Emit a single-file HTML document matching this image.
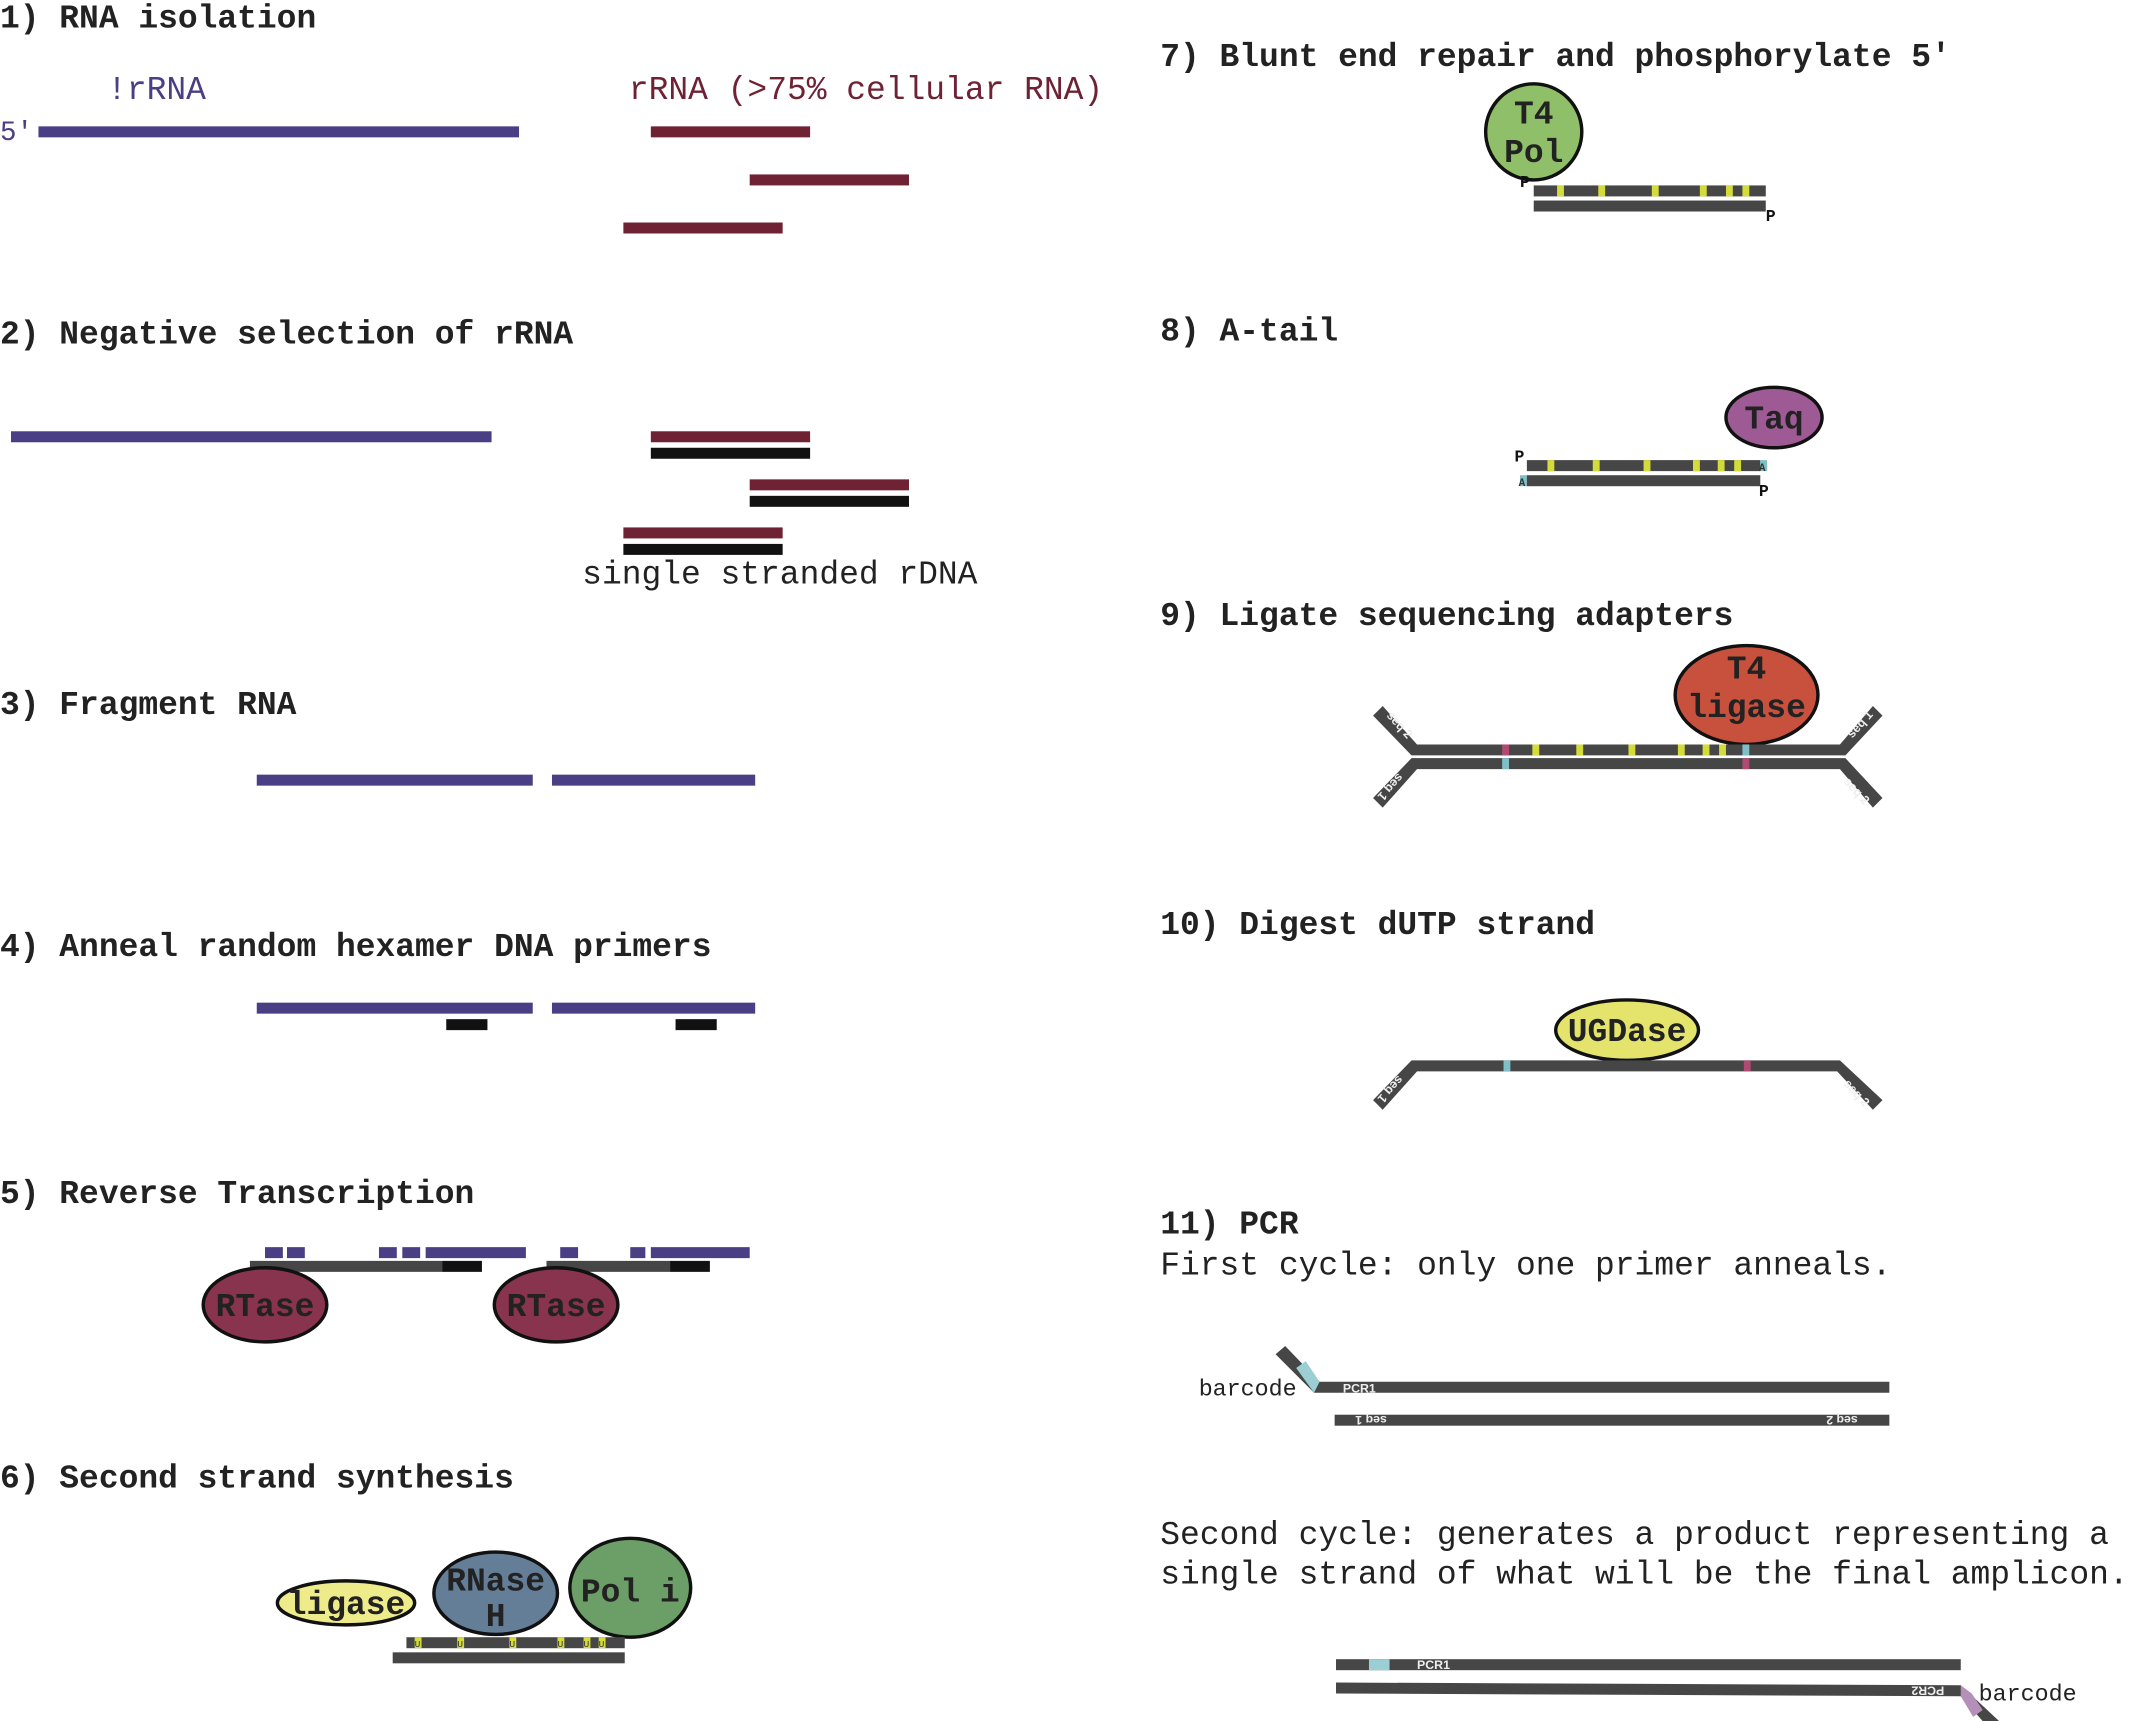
<!DOCTYPE html>
<html><head><meta charset="utf-8"><style>
html,body{margin:0;padding:0;background:#fff;}
svg{display:block;}
text{font-family:"Liberation Mono",monospace;}
.h{font-weight:bold;font-size:24px;fill:#222;}
.t{font-size:24px;fill:#222;}
.e{stroke:#111;stroke-width:2.5;}
.el{font-weight:bold;font-size:24px;fill:#222;text-anchor:middle;}
.s{fill:#464646;}
.y{fill:#d4dc3c;}
.sm{font-size:12px;font-weight:bold;fill:#111;}
.wl{font-size:9px;font-weight:bold;fill:#eee;font-family:"Liberation Sans",sans-serif;}
</style></head><body>
<svg width="2142" height="1721" viewBox="0 0 1560 1253" preserveAspectRatio="none">
<g>
<text class="h" x="0" y="20">1) RNA isolation</text>
<text class="t" x="78" y="72" style="fill:#4a3f84">!rRNA</text>
<text class="t" x="458" y="72" style="fill:#6e2234">rRNA (&gt;75% cellular RNA)</text>
<text class="t" x="0" y="102" style="fill:#4a3f84;font-size:20px">5′</text>
<rect x="28" y="92" width="350" height="8" fill="#4a3f84"/>
<rect x="474" y="92" width="116" height="8" fill="#6e2234"/>
<rect x="546" y="127" width="116" height="8" fill="#6e2234"/>
<rect x="454" y="162" width="116" height="8" fill="#6e2234"/>
</g>
<g>
<text class="h" x="0" y="250">2) Negative selection of rRNA</text>
<rect x="8" y="314" width="350" height="8" fill="#4a3f84"/>
<rect x="474" y="314" width="116" height="8" fill="#6e2234"/>
<rect x="474" y="326" width="116" height="8" fill="#111"/>
<rect x="546" y="349" width="116" height="8" fill="#6e2234"/>
<rect x="546" y="361" width="116" height="8" fill="#111"/>
<rect x="454" y="384" width="116" height="8" fill="#6e2234"/>
<rect x="454" y="396" width="116" height="8" fill="#111"/>
<text class="t" x="424" y="425">single stranded rDNA</text>
</g>
<g>
<text class="h" x="0" y="520">3) Fragment RNA</text>
<rect x="187" y="564" width="201" height="8" fill="#4a3f84"/>
<rect x="402" y="564" width="148" height="8" fill="#4a3f84"/>
</g>
<g>
<text class="h" x="0" y="696">4) Anneal random hexamer DNA primers</text>
<rect x="187" y="730" width="201" height="8" fill="#4a3f84"/>
<rect x="402" y="730" width="148" height="8" fill="#4a3f84"/>
<rect x="325" y="742" width="30" height="8" fill="#111"/>
<rect x="492" y="742" width="30" height="8" fill="#111"/>
</g>
<g>
<text class="h" x="0" y="876">5) Reverse Transcription</text>
<g fill="#4a3f84">
<rect x="193" y="908" width="13" height="8"/><rect x="209" y="908" width="13" height="8"/>
<rect x="276" y="908" width="13" height="8"/><rect x="293" y="908" width="13" height="8"/>
<rect x="310" y="908" width="73" height="8"/>
<rect x="408" y="908" width="13" height="8"/><rect x="459" y="908" width="11" height="8"/>
<rect x="474" y="908" width="72" height="8"/>
</g>
<rect x="182" y="918" width="140" height="8" class="s"/>
<rect x="322" y="918" width="29" height="8" fill="#111"/>
<rect x="398" y="918" width="90" height="8" class="s"/>
<rect x="488" y="918" width="29" height="8" fill="#111"/>
<ellipse cx="193" cy="950" rx="45" ry="27" fill="#88344f" class="e"/>
<text class="el" x="193" y="958">RTase</text>
<ellipse cx="405" cy="950" rx="45" ry="27" fill="#88344f" class="e"/>
<text class="el" x="405" y="958">RTase</text>
</g>
<g>
<text class="h" x="0" y="1083">6) Second strand synthesis</text>
<ellipse cx="252" cy="1167" rx="50" ry="16" fill="#eeeb8a" class="e"/>
<text class="el" x="252" y="1175">ligase</text>
<ellipse cx="361" cy="1160" rx="45" ry="30" fill="#647e98" class="e"/>
<text class="el" x="361" y="1158">RNase</text>
<text class="el" x="361" y="1184">H</text>
<ellipse cx="459" cy="1156" rx="44" ry="36" fill="#6c9e67" class="e"/>
<text class="el" x="459" y="1166">Pol i</text>
<rect x="296" y="1192" width="159" height="8" class="s"/>
<g class="y">
<rect x="302" y="1192" width="5" height="8"/><rect x="333" y="1192" width="5" height="8"/><rect x="371" y="1192" width="5" height="8"/>
<rect x="406" y="1192" width="5" height="8"/><rect x="425" y="1192" width="5" height="8"/><rect x="436" y="1192" width="5" height="8"/>
</g>
<g style="font-size:7px;fill:#333">
<text x="302" y="1199">U</text><text x="333" y="1199">U</text><text x="371" y="1199">U</text><text x="406" y="1199">U</text><text x="425" y="1199">U</text><text x="436" y="1199">U</text>
</g>
<rect x="286" y="1203" width="169" height="8" class="s"/>
</g>
<g>
<text class="h" x="845" y="48">7) Blunt end repair and phosphorylate 5′</text>
<ellipse cx="1117" cy="96" rx="35" ry="35" fill="#8fbf68" class="e"/>
<text class="el" x="1117" y="90">T4</text>
<text class="el" x="1117" y="118">Pol</text>
<text class="sm" x="1107" y="136">P</text>
<rect x="1117" y="135" width="169" height="8" class="s"/>
<g class="y"><rect x="1134" y="135" width="5" height="8"/><rect x="1164" y="135" width="5" height="8"/><rect x="1203" y="135" width="5" height="8"/><rect x="1238" y="135" width="5" height="8"/><rect x="1257" y="135" width="5" height="8"/><rect x="1269" y="135" width="5" height="8"/></g>
<rect x="1117" y="146" width="169" height="8" class="s"/>
<text class="sm" x="1286" y="161">P</text>
</g>
<g>
<text class="h" x="845" y="248">8) A-tail</text>
<ellipse cx="1292" cy="304" rx="35" ry="22" fill="#9e5a94" class="e"/>
<text class="el" x="1292" y="312">Taq</text>
<text class="sm" x="1103" y="336">P</text>
<rect x="1112" y="335" width="170" height="8" class="s"/>
<rect x="1282" y="335" width="5" height="8" fill="#7fc0c8"/>
<text x="1281" y="343" style="font-size:8px;font-weight:bold;fill:#333">A</text>
<g class="y"><rect x="1127" y="335" width="5" height="8"/><rect x="1160" y="335" width="5" height="8"/><rect x="1197" y="335" width="5" height="8"/><rect x="1233" y="335" width="5" height="8"/><rect x="1251" y="335" width="5" height="8"/><rect x="1263" y="335" width="5" height="8"/></g>
<rect x="1107" y="346" width="5" height="8" fill="#7fc0c8"/>
<text x="1106" y="354" style="font-size:8px;font-weight:bold;fill:#333">A</text>
<rect x="1112" y="346" width="170" height="8" class="s"/>
<text class="sm" x="1281" y="361">P</text>
</g>
<g>
<text class="h" x="845" y="455">9) Ligate sequencing adapters</text>
<ellipse cx="1272" cy="506" rx="52" ry="36" fill="#c8513d" class="e"/>
<text class="el" x="1272" y="494">T4</text>
<text class="el" x="1272" y="522">ligase</text>
<polygon points="1000,521 1007,514 1032,542 1340,542 1364,514 1371,521 1344,550 1028,550" class="s"/>
<polygon points="1028,552 1344,552 1371,581 1364,588 1340,560 1032,560 1007,588 1000,581" class="s"/>
<text class="wl" x="1006" y="525" transform="rotate(48 1012 527)">seq 2</text>
<text class="wl" x="1342" y="532" transform="rotate(-48 1352 527)">seq 1</text>
<text class="wl" x="1006" y="580" transform="rotate(132 1016 574)">seq 1</text>
<text class="wl" x="1342" y="578" transform="rotate(48 1352 574)">seq 2</text>
<g class="y"><rect x="1116" y="542" width="5" height="8"/><rect x="1148" y="542" width="5" height="8"/><rect x="1186" y="542" width="5" height="8"/><rect x="1222" y="542" width="5" height="8"/><rect x="1240" y="542" width="5" height="8"/><rect x="1252" y="542" width="5" height="8"/></g>
<rect x="1094" y="542" width="5" height="8" fill="#b04a72"/><rect x="1269" y="542" width="5" height="8" fill="#7fc0c8"/>
<rect x="1094" y="552" width="5" height="8" fill="#7fc0c8"/><rect x="1269" y="552" width="5" height="8" fill="#b04a72"/>
</g>
<g>
<text class="h" x="845" y="680">10) Digest dUTP strand</text>
<ellipse cx="1185" cy="750" rx="52" ry="22" fill="#e4e46c" class="e"/>
<text class="el" x="1185" y="758">UGDase</text>
<polygon points="1028,772 1340,772 1371,801 1364,808 1338,780 1032,780 1007,808 1000,801" class="s"/>
<text class="wl" x="1006" y="800" transform="rotate(132 1016 794)">seq 1</text>
<text class="wl" x="1342" y="798" transform="rotate(48 1352 794)">seq 2</text>
<rect x="1095" y="772" width="5" height="8" fill="#7fc0c8"/><rect x="1270" y="772" width="5" height="8" fill="#b04a72"/>
</g>
<g>
<text class="h" x="845" y="898">11) PCR</text>
<text class="t" x="845" y="928">First cycle: only one primer anneals.</text>
<text class="t" x="873" y="1016" style="font-size:17px">barcode</text>
<polygon points="929,986 936,980 961,1006 1376,1006 1376,1014 957,1014" class="s"/>
<polygon points="944,996 951,991 961,1006 957,1014" fill="#9ccfd3"/>
<text class="wl" x="978" y="1014">PCR1</text>
<rect x="972" y="1030" width="404" height="8" class="s"/>
<text class="wl" x="984" y="1037" transform="rotate(180 997 1034)">seq 1</text>
<text class="wl" x="1327" y="1037" transform="rotate(180 1340 1034)">seq 2</text>
<text class="t" x="845" y="1124">Second cycle: generates a product representing a</text>
<text class="t" x="845" y="1153">single strand of what will be the final amplicon.</text>
<rect x="973" y="1208" width="455" height="8" class="s"/>
<rect x="997" y="1208" width="15" height="8" fill="#9ccfd3"/>
<text class="wl" x="1032" y="1215">PCR1</text>
<polygon points="973,1225 1428,1227 1458,1255 1451,1261 1428,1235 973,1233" class="s"/>
<polygon points="1428,1227 1436,1233 1444,1245 1437,1250 1428,1235" fill="#b48fb8"/>
<text class="wl" x="1394" y="1234" transform="rotate(180 1405 1231)">PCR2</text>
<text class="t" x="1441" y="1238" style="font-size:17px">barcode</text>
</g>
</svg>
</body></html>
